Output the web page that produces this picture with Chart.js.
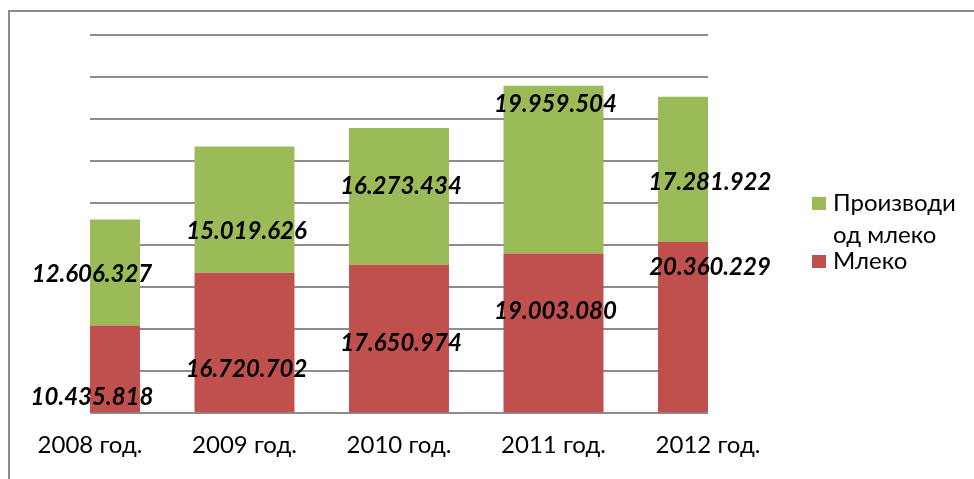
<!DOCTYPE html>
<html>
<head>
<meta charset="utf-8">
<title>Млеко и производи од млеко</title>
<script src="https://cdn.jsdelivr.net/npm/chart.js@4/dist/chart.umd.min.js"></script>
<style>
    html, body { margin: 0; padding: 0; background: #ffffff; }
    #chart-box { width: 974px; height: 479px; position: relative; }
</style>
</head>
<body>
<div id="chart-box"><canvas id="milk-chart"></canvas></div>
<script>
// Categories and series values
const years = ['2008 год.', '2009 год.', '2010 год.', '2011 год.', '2012 год.'];
const milk = [10435818, 16720702, 17650974, 19003080, 20360229];
const dairyProducts = [12606327, 15019626, 16273434, 19959504, 17281922];

// Where each value label sits (in axis units)
const milkLabelAt = [1900000, 5200000, 8300000, 12100000, 17400000];
const dairyLabelAt = [16500000, 21700000, 27000000, 36800000, 27500000];

// Y axis range (no tick labels shown, only gridlines)
const yMax = 45000000;
const yStep = 5000000;

const RED = '#C0504D';
const GREEN = '#9BBB59';

// Format 12606327 -> 12.606.327
function formatValue(v) {
    return String(v).replace(/\B(?=(\d{3})+(?!\d))/g, '.');
}

// Outer frame (only top and left edges are visible in the picture)
const framePlugin = {
    id: 'frame',
    beforeDraw(chart) {
        const ctx = chart.ctx;
        ctx.save();
        ctx.strokeStyle = '#8a8a8a';
        ctx.lineWidth = 2;
        ctx.beginPath();
        ctx.moveTo(9, chart.height);
        ctx.lineTo(9, 11);
        ctx.lineTo(chart.width, 11);
        ctx.stroke();
        ctx.restore();
    }
};

// Value labels drawn on top of the bars
const valueLabelPlugin = {
    id: 'valueLabels',
    afterDatasetsDraw(chart) {
        const ctx = chart.ctx;
        const yScale = chart.scales.y;
        const labelAt = [milkLabelAt, dairyLabelAt];
        ctx.save();
        ctx.font = 'italic bold 24px Lato';
        ctx.fillStyle = '#000000';
        ctx.textAlign = 'center';
        ctx.textBaseline = 'middle';
        chart.data.datasets.forEach((ds, i) => {
            const meta = chart.getDatasetMeta(i);
            meta.data.forEach((bar, j) => {
                const y = yScale.getPixelForValue(labelAt[i][j]);
                ctx.fillText(formatValue(ds.data[j]), bar.x + 2, y);
            });
        });
        ctx.restore();
    }
};

// Legend on the right, with the long label wrapped on two lines
const sideLegendPlugin = {
    id: 'sideLegend',
    afterDraw(chart) {
        const ctx = chart.ctx;
        const x = chart.chartArea.right + 104;
        const top = chart.chartArea.top;
        ctx.save();
        ctx.font = '24px Lato';
        ctx.fillStyle = '#000000';
        ctx.textBaseline = 'middle';

        ctx.fillStyle = GREEN;
        ctx.fillRect(x, top + 162, 14, 13);
        ctx.fillStyle = '#000000';
        ctx.fillText('Производи', x + 21, top + 168);
        ctx.fillText('од млеко', x + 21, top + 200);

        ctx.fillStyle = RED;
        ctx.fillRect(x, top + 220, 14, 13);
        ctx.fillStyle = '#000000';
        ctx.fillText('Млеко', x + 21, top + 226);
        ctx.restore();
    }
};

function initChart() {
    const ctx = document.getElementById('milk-chart');
    new Chart(ctx, {
        type: 'bar',
        data: {
            labels: years,
            datasets: [
                {
                    label: 'Млеко',
                    data: milk,
                    backgroundColor: RED,
                    clip: 0
                },
                {
                    label: 'Производи од млеко',
                    data: dairyProducts,
                    backgroundColor: GREEN,
                    clip: 0
                }
            ]
        },
        options: {
            responsive: true,
            maintainAspectRatio: false,
            animation: false,
            categoryPercentage: 1,
            barPercentage: 0.647,
            layout: {
                padding: { left: 90, right: 266, top: 35, bottom: 1 }
            },
            plugins: {
                legend: { display: false },
                tooltip: { enabled: false }
            },
            scales: {
                x: {
                    stacked: true,
                    offset: false,
                    grid: { display: false, drawTicks: false },
                    border: { display: false },
                    ticks: {
                        color: '#000000',
                        padding: 18,
                        maxRotation: 0,
                        font: { family: 'Lato', size: 24 }
                    }
                },
                y: {
                    stacked: true,
                    min: 0,
                    max: yMax,
                    grid: {
                        color: '#8c8c8c',
                        lineWidth: 2,
                        drawTicks: false
                    },
                    border: { display: false },
                    ticks: { display: false, stepSize: yStep }
                }
            }
        },
        plugins: [framePlugin, valueLabelPlugin, sideLegendPlugin]
    });
}

document.addEventListener('DOMContentLoaded', initChart);
</script>
</body>
</html>
